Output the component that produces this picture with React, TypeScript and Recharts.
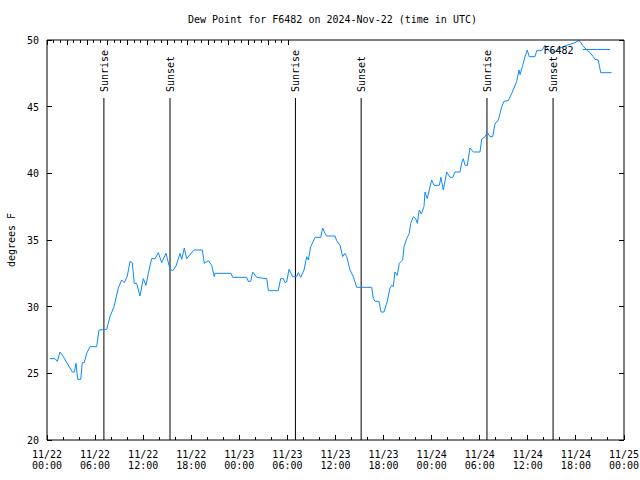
import { LineChart, Line, XAxis, YAxis, ReferenceLine, Legend } from 'recharts'

const FONT = '"DejaVu Sans Mono", monospace'
const LINE_COLOR = '#0b8aff'

// hours since 11/22 00:00 UTC
const HOURS = [
  0.37, 1.0, 1.29, 1.62, 2.03, 3.16, 3.41, 3.62, 3.83, 4.21, 4.4, 4.65, 4.95, 5.37, 6.2, 6.49,
  7.45, 7.86, 8.36, 8.9, 9.32, 9.65, 10.02, 10.36, 10.64, 10.89, 11.19, 11.6, 12.02, 12.35, 12.64,
  13.06, 13.48, 13.89, 14.31, 14.85, 15.35, 15.69, 16.1, 16.6, 16.81, 17.13, 17.43, 18.26, 18.34,
  19.38, 19.63, 20.13, 20.55, 20.88, 20.96, 22.96, 23.17, 24.92, 25.12, 25.42, 25.67, 26.17, 27.42,
  27.62, 28.86, 29.16, 29.49, 29.7, 29.91, 30.2, 30.66, 31.16, 31.36, 31.66, 32.07, 32.41, 32.61,
  32.91, 33.23, 33.44, 34.15, 34.4, 34.69, 34.9, 35.94, 36.15, 36.56, 36.9, 37.18, 37.4, 37.81,
  38.22, 38.65, 40.52, 40.72, 40.93, 41.43, 41.68, 42.05, 42.46, 42.8, 43.01, 43.21, 43.42, 43.71,
  43.96, 44.38, 44.55, 44.88, 45.21, 45.38, 45.71, 46.01, 46.21, 46.46, 46.71, 47.04, 47.17, 47.45,
  47.7, 48.0, 48.29, 48.95, 49.16, 49.45, 49.88, 50.29, 50.62, 50.91, 51.53, 51.75, 51.95, 52.16,
  52.45, 52.78, 53.2, 54.03, 54.24, 54.66, 54.94, 55.28, 55.61, 55.9, 56.32, 56.74, 57.03, 57.56,
  57.99, 58.27, 58.61, 58.9, 59.03, 59.36, 59.65, 59.93, 60.18, 60.89, 61.11, 61.73, 62.14, 62.77,
  63.39, 64.01, 64.85, 65.89, 66.3, 66.51, 66.84, 67.13, 67.42, 67.76, 68.17, 68.38, 68.79, 68.92,
  69.09, 70.46,
]

const DEW_POINT = [
  26.1, 26.1, 25.9, 26.6, 26.25, 25.1, 25.1, 25.75, 24.55, 24.55, 25.8, 25.8, 26.5, 27.0, 27.0, 28.25,
  28.3, 29.25, 30.0, 31.4, 32.0, 31.8, 32.3, 33.4, 33.3, 31.75, 31.75, 30.8, 32.1, 31.6, 32.5,
  33.6, 33.6, 34.05, 33.3, 34.0, 32.8, 32.7, 33.05, 34.0, 33.55, 34.4, 33.6, 34.2, 34.25,
  34.25, 33.25, 33.45, 33.1, 32.25, 32.5, 32.5, 32.2, 32.2, 31.9, 31.9, 32.6, 32.2, 32.1,
  31.2, 31.2, 32.1, 32.1, 31.8, 31.85, 32.8, 32.25, 32.25, 32.55, 32.2, 32.75, 33.75, 33.5,
  34.5, 34.9, 35.2, 35.2, 35.9, 35.5, 35.3, 35.3, 34.95, 34.6, 33.75, 34.0, 33.75, 32.75,
  32.25, 31.45, 31.45, 30.6, 30.4, 30.4, 29.6, 29.6, 30.4, 31.4, 31.6, 31.5, 32.6, 32.35,
  33.25, 33.5, 34.5, 35.1, 35.5, 36.25, 36.75, 36.6, 36.25, 37.25, 36.95, 37.5, 38.6, 38.1,
  38.75, 39.5, 39.1, 39.1, 39.7, 38.75, 40.1, 39.7, 39.7, 40.1, 40.1, 40.8, 41.1, 40.6,
  40.6, 41.9, 41.6, 41.6, 42.55, 42.75, 43.05, 42.75, 42.75, 43.7, 44.0, 45.0, 45.4, 45.45,
  46.0, 46.4, 46.9, 47.75, 47.4, 48.1, 48.75, 49.25, 48.75, 48.75, 49.2, 49.2, 49.6, 49.1,
  49.1, 49.4, 49.6, 49.8, 49.95, 49.9, 49.6, 49.4, 49.2, 49.05, 48.75, 48.55, 48.5, 48.1,
  47.55, 47.55,
]

const MAJOR_TICKS = [0, 6, 12, 18, 24, 30, 36, 42, 48, 54, 60, 66, 72]
const MINOR_TICKS = [
  0, 2, 4, 6, 8, 10, 12, 14, 16, 18, 20, 22, 24, 26, 28, 30, 32, 34, 36,
  38, 40, 42, 44, 46, 48, 50, 52, 54, 56, 58, 60, 62, 64, 66, 68, 70, 72,
]
const DAY_LABELS = [
  '11/22', '11/22', '11/22', '11/22', '11/23', '11/23', '11/23', '11/23',
  '11/24', '11/24', '11/24', '11/24', '11/25',
]
const TIME_LABELS = [
  '00:00', '06:00', '12:00', '18:00', '00:00', '06:00', '12:00', '18:00',
  '00:00', '06:00', '12:00', '18:00', '00:00',
]
const Y_TICKS = [20, 25, 30, 35, 40, 45, 50]

const SUNRISE = [7.1, 31.0, 54.9]
const SUNSET = [15.35, 39.2, 63.15]
const MARKER_TOP = 45.65

const data = HOURS.map((t, i) => ({ t, dew: DEW_POINT[i] }))

const txt = { fontFamily: FONT, fontSize: 10, fill: '#000' }

function BottomTick({ x, y, payload }: any) {
  const i = MAJOR_TICKS.indexOf(payload.value)
  const major = i >= 0
  return (
    <g>
      <line x1={x} x2={x} y1={y} y2={y - (major ? 5 : 3)} stroke="#000" shapeRendering="crispEdges" />
      {major && (
        <text x={x} y={y + 18} textAnchor="middle" style={txt}>{DAY_LABELS[i]}</text>
      )}
      {major && (
        <text x={x} y={y + 29} textAnchor="middle" style={txt}>{TIME_LABELS[i]}</text>
      )}
    </g>
  )
}

function TopTick({ x, y, payload }: any) {
  const major = MAJOR_TICKS.includes(payload.value)
  return <line x1={x} x2={x} y1={y} y2={y + (major ? 5 : 3)} stroke="#000" shapeRendering="crispEdges" />
}

function LeftTick({ x, y, payload }: any) {
  return (
    <g>
      <line x1={x} x2={x + 5} y1={y} y2={y} stroke="#000" shapeRendering="crispEdges" />
      <text x={x - 8} y={y + 4} textAnchor="end" style={txt}>{payload.value}</text>
    </g>
  )
}

function RightTick({ x, y }: any) {
  return <line x1={x} x2={x - 5} y1={y} y2={y} stroke="#000" shapeRendering="crispEdges" />
}

function TitleLabel({ viewBox }: any) {
  return (
    <text x={viewBox.x + viewBox.width / 2 - 3} y={23} textAnchor="middle" style={txt}>
      Dew Point for F6482 on 2024-Nov-22 (time in UTC)
    </text>
  )
}

function YTitle({ viewBox }: any) {
  const cy = viewBox.y + viewBox.height / 2
  return (
    <text x={15} y={cy} textAnchor="middle" transform={`rotate(-90, 15, ${cy})`} style={txt}>
      degrees F
    </text>
  )
}

function eventLabel(text: string) {
  return ({ viewBox }: any) => {
    const x = viewBox.x + 4
    const y = viewBox.y - 6
    return (
      <text x={x} y={y} textAnchor="start" transform={`rotate(-90, ${x}, ${y})`} style={txt}>
        {text}
      </text>
    )
  }
}

function LegendBox({ payload }: any) {
  const name = payload && payload[0] ? payload[0].value : 'F6482'
  return (
    <svg width={90} height={20}>
      <text x={43.5} y={13.5} textAnchor="end" style={txt}>{name}</text>
      <line x1={53} x2={80} y1={9.5} y2={9.5} stroke={LINE_COLOR} />
    </svg>
  )
}

export default function App() {
  return (
    <div style={{ position: 'absolute', left: 0, top: 0, background: '#fff' }}>
      <LineChart width={640} height={480} data={data} margin={{ top: 0, right: 0, bottom: 0, left: 0 }}>
        <XAxis
          xAxisId="bottom"
          dataKey="t"
          type="number"
          domain={[0, 72]}
          ticks={MINOR_TICKS}
          interval={0}
          height={40}
          tickSize={0}
          tickMargin={0}
          tickLine={false}
          axisLine={{ stroke: '#000' }}
          tick={<BottomTick />}
        />
        <XAxis
          xAxisId="top"
          orientation="top"
          type="number"
          domain={[0, 72]}
          allowDataOverflow
          ticks={MINOR_TICKS}
          interval={0}
          height={40}
          tickSize={0}
          tickMargin={0}
          tickLine={false}
          axisLine={{ stroke: '#000' }}
          tick={<TopTick />}
          label={{ content: TitleLabel }}
        />
        <YAxis
          yAxisId="left"
          type="number"
          domain={[20, 50]}
          ticks={Y_TICKS}
          interval={0}
          width={47}
          tickSize={0}
          tickMargin={0}
          tickLine={false}
          axisLine={{ stroke: '#000' }}
          tick={<LeftTick />}
          label={{ content: YTitle }}
        />
        <YAxis
          yAxisId="right"
          orientation="right"
          type="number"
          domain={[20, 50]}
          allowDataOverflow
          ticks={Y_TICKS}
          interval={0}
          width={16}
          tickSize={0}
          tickMargin={0}
          tickLine={false}
          axisLine={{ stroke: '#000' }}
          tick={<RightTick />}
        />
        {SUNRISE.map((h) => (
          <ReferenceLine
            key={`rise-${h}`}
            xAxisId="bottom"
            yAxisId="left"
            segment={[{ x: h, y: 20 }, { x: h, y: MARKER_TOP }]}
            stroke="#000"
            strokeWidth={1}
            label={eventLabel('Sunrise')}
          />
        ))}
        {SUNSET.map((h) => (
          <ReferenceLine
            key={`set-${h}`}
            xAxisId="bottom"
            yAxisId="left"
            segment={[{ x: h, y: 20 }, { x: h, y: MARKER_TOP }]}
            stroke="#000"
            strokeWidth={1}
            label={eventLabel('Sunset')}
          />
        ))}
        <Line
          xAxisId="bottom"
          yAxisId="left"
          type="linear"
          dataKey="dew"
          name="F6482"
          stroke={LINE_COLOR}
          strokeWidth={1}
          dot={false}
          activeDot={false}
          isAnimationActive={false}
        />
        <Legend
          layout="horizontal"
          verticalAlign="middle"
          align="center"
          wrapperStyle={{ position: 'absolute', left: 530, top: 40, width: 90, height: 20 }}
          content={<LegendBox />}
        />
      </LineChart>
    </div>
  )
}
